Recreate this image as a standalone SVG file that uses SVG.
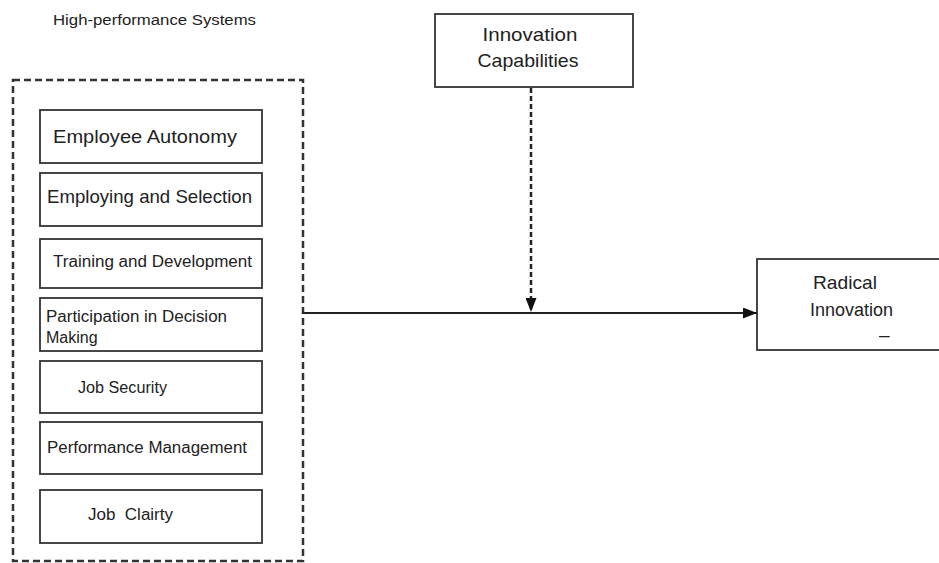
<svg xmlns="http://www.w3.org/2000/svg" width="939" height="563" viewBox="0 0 939 563">
  <style>
    .box { fill: #fff; stroke: #333; stroke-width: 1.8; }
    .t { font-family: "Liberation Sans", Arial, sans-serif; fill: #222; white-space: pre; }
    .big { font-size: 19px; }
    .sm { font-size: 16px; }
    .cont { fill: none; stroke: #333; stroke-width: 2.5; stroke-dasharray: 7 4; }
    .edge { fill: none; stroke: #222; stroke-width: 2; }
    .dash { stroke-width: 2.5; stroke-dasharray: 5 3; }
  </style>
  <defs>
    <marker id="arrowL" viewBox="0 0 10 10" refX="10" refY="5" markerWidth="14" markerHeight="11" markerUnits="userSpaceOnUse" orient="auto" preserveAspectRatio="none">
      <path d="M0,0 L10,5 L0,10 z" fill="#111"/>
    </marker>
  </defs>
  <rect width="939" height="563" fill="#fff"/>

  <g id="hps-title">
    <text class="t" x="53" y="25" font-size="14" textLength="203" lengthAdjust="spacingAndGlyphs">High-performance Systems</text>
  </g>

  <g id="hps-container">
    <rect class="cont" x="13" y="80" width="290" height="481"/>
  </g>

  <g id="employee-autonomy">
    <rect class="box" x="40" y="110" width="222" height="53"/>
    <text class="t big" x="53" y="143" textLength="184" lengthAdjust="spacingAndGlyphs">Employee Autonomy</text>
  </g>
  <g id="employing-selection">
    <rect class="box" x="40" y="173" width="222" height="53"/>
    <text class="t big" x="47" y="203" textLength="205" lengthAdjust="spacingAndGlyphs">Employing and Selection</text>
  </g>
  <g id="training-development">
    <rect class="box" x="40" y="239" width="222" height="49"/>
    <text class="t sm" x="53" y="267" textLength="199" lengthAdjust="spacingAndGlyphs">Training and Development</text>
  </g>
  <g id="participation">
    <rect class="box" x="40" y="298" width="222" height="53"/>
    <text class="t sm" x="46" y="322" textLength="181" lengthAdjust="spacingAndGlyphs">Participation in Decision</text>
    <text class="t sm" x="46" y="343">Making</text>
  </g>
  <g id="job-security">
    <rect class="box" x="40" y="361" width="222" height="52"/>
    <text class="t sm" x="78" y="393" textLength="89" lengthAdjust="spacingAndGlyphs">Job Security</text>
  </g>
  <g id="performance-management">
    <rect class="box" x="40" y="422" width="222" height="52"/>
    <text class="t sm" x="47" y="453" textLength="200" lengthAdjust="spacingAndGlyphs">Performance Management</text>
  </g>
  <g id="job-clarity">
    <rect class="box" x="40" y="490" width="222" height="53"/>
    <text class="t sm" x="88" y="520" textLength="85" lengthAdjust="spacingAndGlyphs">Job  Clairty</text>
  </g>

  <g id="innovation-capabilities">
    <rect class="box" x="435" y="14" width="198" height="73"/>
    <text class="t big" x="530" y="41" text-anchor="middle" textLength="95" lengthAdjust="spacingAndGlyphs">Innovation</text>
    <text class="t big" x="528" y="67" text-anchor="middle" textLength="101" lengthAdjust="spacingAndGlyphs">Capabilities</text>
  </g>

  <g id="radical-innovation">
    <rect class="box" x="757" y="259" width="190" height="91"/>
    <text class="t big" x="813" y="289" textLength="64" lengthAdjust="spacingAndGlyphs">Radical</text>
    <text class="t big" x="810" y="316" textLength="83" lengthAdjust="spacingAndGlyphs">Innovation</text>
    <text class="t big" x="879" y="341">–</text>
  </g>

  <g id="connectors">
    <line class="edge" x1="302" y1="313" x2="757" y2="313" marker-end="url(#arrowL)"/>
    <line class="edge dash" x1="531" y1="88" x2="531" y2="312" marker-end="url(#arrowL)"/>
  </g>
</svg>
